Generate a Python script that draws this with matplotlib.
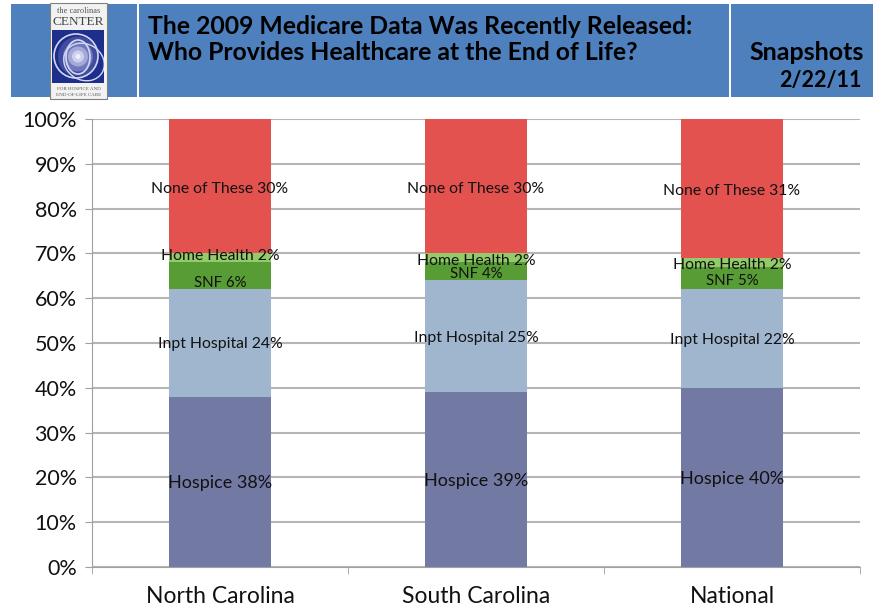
import matplotlib
matplotlib.use("Agg")
import matplotlib.pyplot as plt
from matplotlib.patches import Rectangle, Circle, Ellipse

plt.rcParams["font.family"] = ["Lato", "DejaVu Sans"]

W, H = 873, 612

places = ["North Carolina", "South Carolina", "National"]
segments = ["Hospice", "Inpt Hospital", "SNF", "Home Health", "None of These"]
colors = ["#7279A3", "#A0B6CE", "#579C35", "#93CB6B", "#E3524F"]
values = {
    "Hospice": [38, 39, 40],
    "Inpt Hospital": [24, 25, 22],
    "SNF": [6, 4, 5],
    "Home Health": [2, 2, 2],
    "None of These": [30, 30, 31],
}
# label nudges in points, the original labels were moved by hand in places
nudge_y = {
    "Hospice": [-1, -1, -1],
    "Inpt Hospital": [-1, -1, -1],
    "SNF": [-5, -2, -2],
    "Home Health": [1, -2, -2],
    "None of These": [-2, -2, -2],
}
label_size = {"Hospice": 13, "Inpt Hospital": 11.3, "SNF": 10.8, "Home Health": 11.3, "None of These": 11.3}
yticks = list(range(0, 101, 10))


def box(x0, y0, x1, y1, **kw):
    # pixel box, y measured from the top of the picture
    fig.add_artist(Rectangle((x0 / W, 1 - y1 / H), (x1 - x0) / W, (y1 - y0) / H,
                             transform=fig.transFigure, **kw))


fig = plt.figure(figsize=(W / 100, H / 100), dpi=100, facecolor="white")

# --- header bands ---
for x0, x1 in [(11, 137), (139, 729), (731, 873)]:
    box(x0, 4, x1, 97, facecolor="#4D80BC", edgecolor="none")

fig.text(148 / W, 1 - 26 / H, "The 2009 Medicare Data Was Recently Released:",
         fontsize=17.85, fontweight="bold", va="center", ha="left", color="black")
fig.text(148 / W, 1 - 53 / H, "Who Provides Healthcare at the End of Life?",
         fontsize=17.85, fontweight="bold", va="center", ha="left", color="black")
fig.text(864 / W, 1 - 53 / H, "Snapshots", fontsize=18, fontweight="bold",
         va="center", ha="right", color="black")
fig.text(862 / W, 1 - 81 / H, "2/22/11", fontsize=15.5, fontweight="bold",
         va="center", ha="right", color="black")

# --- logo ---
box(50, 3, 107, 99, facecolor="#F2F2F2", edgecolor="#808080", linewidth=0.8)
logo = fig.add_axes([52 / W, 1 - 83 / H, 52 / W, 53 / H], zorder=5)
logo.set_xlim(52, 104)
logo.set_ylim(83, 30)
logo.set_facecolor("#1E2E8C")
logo.set_xticks([])
logo.set_yticks([])
for s in logo.spines.values():
    s.set_visible(False)
for r, c in [(20, "#3F4CA0"), (15, "#6F78BC"), (10, "#A3A9D8"), (6, "#CDD0EC"), (2.5, "#EEEFFA")]:
    logo.add_patch(Circle((78, 56.5), r, facecolor=c, edgecolor="none"))
logo.add_patch(Ellipse((76, 56), 44, 44, fill=False, edgecolor="#D5D8F0", linewidth=1.2))
logo.add_patch(Ellipse((78, 57), 24, 34, fill=False, edgecolor="#D5D8F0", linewidth=1.2))
logo.add_patch(Ellipse((84, 62), 42, 36, angle=30, fill=False, edgecolor="#D5D8F0", linewidth=1))
fig.text(78.5 / W, 1 - 11 / H, "the carolinas", fontsize=6, family="Liberation Serif",
         ha="center", va="center", color="#555555")
fig.text(78.5 / W, 1 - 22 / H, "CENTER", fontsize=9.5, family="Liberation Serif",
         ha="center", va="center", color="#444444")
fig.text(78.5 / W, 1 - 89 / H, "FOR HOSPICE AND", fontsize=3.6, family="Liberation Serif",
         ha="center", va="center", color="#555555")
fig.text(78.5 / W, 1 - 94.5 / H, "END-OF-LIFE CARE", fontsize=3.6, family="Liberation Serif",
         ha="center", va="center", color="#555555")

# --- stacked bars ---
ax = fig.add_axes([92 / W, 1 - 567 / H, 768 / W, 448 / H])
x = list(range(len(places)))
bottoms = [0, 0, 0]
for seg, col in zip(segments, colors):
    vals = values[seg]
    ax.bar(x, vals, width=0.4, bottom=bottoms, color=col, zorder=2)
    for i, v in enumerate(vals):
        ax.annotate(f"{seg} {v}%", (i, bottoms[i] + v / 2), xytext=(0, nudge_y[seg][i]),
                    textcoords="offset points", ha="center", va="center",
                    fontsize=label_size[seg], color="#111111", zorder=4)
    bottoms = [b + v for b, v in zip(bottoms, vals)]

ax.set_xlim(-0.5, 2.5)
ax.set_ylim(0, 100)
ax.set_yticks(yticks)
ax.set_yticklabels([f"{t}%" for t in yticks], fontsize=15.5, color="#111111")
ax.set_xticks(x)
ax.set_xticklabels(places, fontsize=16.5, color="#111111")
ax.tick_params(axis="x", length=0, pad=14)
ax.tick_params(axis="y", length=5, color="#A0A0A0", pad=6)
ax.set_xticks([-0.5, 0.5, 1.5, 2.5], minor=True)
ax.tick_params(axis="x", which="minor", length=5, color="#A0A0A0")
ax.grid(axis="y", color="#B5B5B5", linewidth=1.5, zorder=1)
ax.set_axisbelow(True)
for s in ["top", "right"]:
    ax.spines[s].set_visible(False)
for s in ["left", "bottom"]:
    ax.spines[s].set_color("#A0A0A0")

fig.savefig("out.png", dpi=100)
